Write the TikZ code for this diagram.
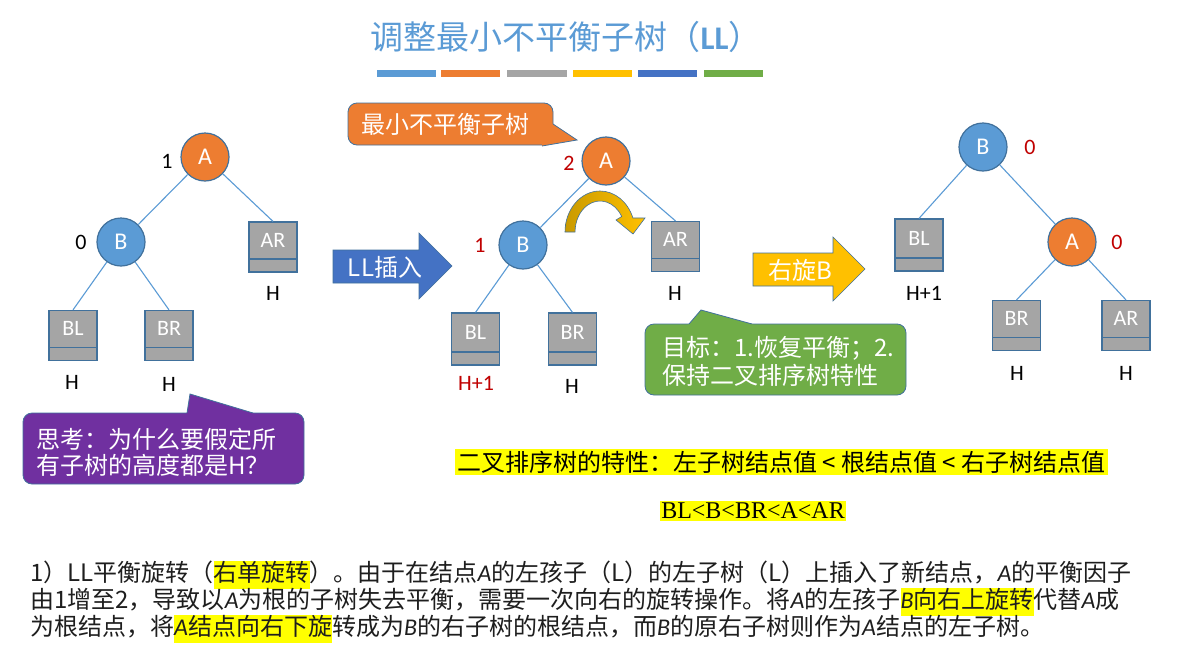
\documentclass[tikz,border=0pt]{standalone}
\usepackage{fontspec}
\setmainfont{Carlito}
\newfontfamily\cjk{Noto Sans CJK SC}
\newfontfamily\lat{Carlito}
\newfontfamily\tms{Liberation Serif}
\definecolor{cBlue}{HTML}{5B9BD5}
\definecolor{cOrange}{HTML}{ED7D31}
\definecolor{cGray}{HTML}{A5A5A5}
\definecolor{cGold}{HTML}{FFC000}
\definecolor{cGoldDk}{HTML}{C99A00}
\definecolor{cDBlue}{HTML}{4472C4}
\definecolor{cGreen}{HTML}{70AD47}
\definecolor{cPurple}{HTML}{7030A0}
\definecolor{cBord}{HTML}{41719C}
\definecolor{cRed}{HTML}{C00000}
\definecolor{cHl}{HTML}{FFFF00}
\definecolor{cText}{HTML}{1E1E1E}
\newcommand\iA{{\lat\itshape A}}
\newcommand\iB{{\lat\itshape B}}
\newcommand\hlt[1]{{\setlength{\fboxsep}{0pt}\colorbox{cHl}{\strut #1}}}
\tikzset{
  edge/.style={draw=cBlue, line width=1.1pt},
  vnode/.style={circle, minimum size=48pt, inner sep=0pt, draw=cBord, line width=1.2pt, text=white, font=\fontsize{24}{24}\selectfont},
  anode/.style={vnode, fill=cOrange},
  bnode/.style={vnode, fill=cBlue},
  subtree/.style={rectangle, fill=cGray, draw=cBord, line width=1.2pt, minimum width=48pt, inner xsep=0pt, inner ysep=0pt, text height=25pt, text depth=25pt, text=white, font=\fontsize{22}{22}\selectfont,
    path picture={\draw[cBord, line width=1.2pt] ([yshift=13pt]path picture bounding box.south west) -- ([yshift=13pt]path picture bounding box.south east);}},
  hlab/.style={font=\fontsize{22}{22}\selectfont, text=black, inner sep=0pt},
  bal/.style={font=\fontsize{22}{22}\selectfont, text=black, inner sep=0pt},
  redbal/.style={bal, text=cRed},
  callbox/.style={draw=cBord, line width=0.8pt, rounded corners=9pt},
  cjktext/.style={font=\cjk\fontsize{24}{27}\selectfont, inner sep=0pt},
  para/.style={font=\cjk\fontsize{24}{27}\selectfont, text=cText, inner sep=0pt, anchor=base west},
}
\begin{document}
\begin{tikzpicture}[x=1pt,y=-1pt]
\fill[white] (0,0) rectangle (1204,656);
\useasboundingbox (0,0) rectangle (1204,656);

% title
\node[font=\cjk\fontsize{33}{33}\selectfont, text=cBlue, inner sep=0pt] (title) at (566,37) {调整最小不平衡子树（{\lat\bfseries LL}）};
\fill[cBlue]   (377,70) rectangle (436,77);
\fill[cOrange] (441,70) rectangle (500,77);
\fill[cGray]   (507,70) rectangle (567,77);
\fill[cGold]   (573,70) rectangle (632,77);
\fill[cDBlue]  (638,70) rectangle (697,77);
\fill[cGreen]  (704,70) rectangle (763,77);

% ---------- tree 1 ----------
\node[anode] (A1) at (205,157) {A};
\node[bnode] (B1) at (121,242) {B};
\node[subtree] (AR1) at (273,247) {AR};
\node[subtree] (BL1) at (73,335.5) {BL};
\node[subtree] (BR1) at (169,335.5) {BR};
\draw[edge] (A1) -- (B1);
\draw[edge] (A1) -- (AR1.north);
\draw[edge] (B1) -- (BL1.north);
\draw[edge] (B1) -- (BR1.north);
\node[bal] (bA1) at (167,161) {1};
\node[bal] (bB1) at (81,242) {0};
\node[hlab] (hAR1) at (273,293) {H};
\node[hlab] (hBL1) at (72,382) {H};
\node[hlab] (hBR1) at (169,384) {H};

% ---------- tree 2 ----------
\node[anode] (A2) at (606,161) {A};
\node[bnode] (B2) at (523,245) {B};
\node[subtree] (AR2) at (675.5,246.5) {AR};
\node[subtree, minimum height=52pt, text height=26pt, text depth=26pt] (BL2) at (475.5,339) {BL};
\node[subtree, minimum height=52pt, text height=26pt, text depth=26pt] (BR2) at (572.5,339) {BR};
\draw[edge] (A2) -- (B2);
\draw[edge] (A2) -- (AR2.north);
\draw[edge] (B2) -- (BL2.north);
\draw[edge] (B2) -- (BR2.north);
\node[redbal] (bA2) at (569,163) {2};
\node[redbal] (bB2) at (480,245) {1};
\node[hlab, text=cRed] (hBL2) at (476,383) {H+1};
\node[hlab] (hBR2) at (572,386) {H};
\node[hlab] (hAR2) at (675,293) {H};

% curved rotation arrow
\draw[draw=cBord, line width=0.6pt, left color=cGoldDk, right color=cGold]
  (565,232) arc[start angle=180, end angle=340, x radius=35, y radius=41]
  -- (645,218) -- (633,234) -- (616,220)
  -- (621.7,216.5) arc[start angle=330, end angle=180, x radius=25, y radius=31]
  -- cycle;

% ---------- tree 3 ----------
\node[bnode] (B3) at (983,147) {B};
\node[anode] (A3) at (1072,242) {A};
\node[subtree, minimum height=52pt, text height=26pt, text depth=26pt] (BL3) at (919,245) {BL};
\node[subtree] (BR3) at (1016.5,325.5) {BR};
\node[subtree] (AR3) at (1126,325.5) {AR};
\draw[edge] (B3) -- (BL3.north);
\draw[edge] (B3) -- (A3);
\draw[edge] (A3) -- (BR3.north);
\draw[edge] (A3) -- (AR3.north);
\node[redbal] (bB3) at (1030,147) {0};
\node[redbal] (bA3) at (1117,242) {0};
\node[hlab] (hBL3) at (924,293) {H+1};
\node[hlab] (hBR3) at (1017,373) {H};
\node[hlab] (hAR3) at (1126,373) {H};

% ---------- block arrows ----------
\draw[fill=cDBlue, draw=cBord, line width=0.6pt]
  (333,250) -- (419,250) -- (419,233) -- (452,266) -- (419,299) -- (419,283) -- (333,283) -- cycle;
\node[cjktext, text=white] (llins) at (385,267) {LL插入};
\draw[fill=cGold, draw=cBord, line width=0.6pt]
  (753,253) -- (833,253) -- (833,237) -- (865,269) -- (833,301) -- (833,286) -- (753,286) -- cycle;
\node[cjktext, text=white] (rotB) at (800,270) {右旋B};

% ---------- callout: orange ----------
\draw[callbox, fill=cOrange] (348,103) rectangle (553,145);
\fill[cOrange] (553,124) -- (577,140) -- (542,146) -- (542,141) -- (545,124) -- cycle;
\draw[cBord, line width=0.8pt] (553,124) -- (577,140) -- (542,146);
\node[cjktext, text=white] (cmin) at (445,124) {最小不平衡子树};

% ---------- callout: green ----------
\draw[callbox, fill=cGreen] (645,324) rectangle (906,395);
\fill[cGreen] (689,324) -- (701,310) -- (752,324) -- (755,328) -- (686,328) -- cycle;
\draw[cBord, line width=0.8pt] (689,324) -- (701,310) -- (752,324);
\node[cjktext, text=white, font=\cjk\fontsize{24}{28}\selectfont, align=left, anchor=west] (goal) at (662,361) {目标：1.恢复平衡；2.\\保持二叉排序树特性};

% ---------- callout: purple ----------
\draw[callbox, fill=cPurple] (23,413) rectangle (304,484);
\fill[cPurple] (187,413) -- (190,394) -- (253,413) -- (256,417) -- (184,417) -- cycle;
\draw[cBord, line width=0.8pt] (187,413) -- (190,394) -- (253,413);
\node[cjktext, text=white, font=\cjk\fontsize{24}{26}\selectfont, align=left, anchor=west] (think) at (36,452) {思考：为什么要假定所\\有子树的高度都是H？};

% ---------- BST property ----------
\node[fill=cHl, font=\cjk\fontsize{24}{28}\selectfont, text=black, inner xsep=2pt, inner ysep=2pt] (prop) at (781.5,462) {二叉排序树的特性：左子树结点值 < 根结点值 < 右子树结点值};
\node[fill=cHl, font=\tms\fontsize{24}{26}\selectfont, text=black, inner xsep=1pt, inner ysep=2pt] (order) at (753,511) {BL<B<BR<A<AR};

% ---------- paragraph ----------
\node[para] (p1) at (30,581) {1）LL平衡旋转（\hlt{右单旋转}）。由于在结点\iA 的左孩子（L）的左子树（L）上插入了新结点，\iA 的平衡因子};
\node[para] (p2) at (30,608) {由1增至2，导致以\iA 为根的子树失去平衡，需要一次向右的旋转操作。将\iA 的左孩子\hlt{\iB 向右上旋转}代替\iA 成};
\node[para] (p3) at (30,635) {为根结点，将\hlt{\iA 结点向右下旋}转成为\iB 的右子树的根结点，而\iB 的原右子树则作为\iA 结点的左子树。};
\end{tikzpicture}
\end{document}
